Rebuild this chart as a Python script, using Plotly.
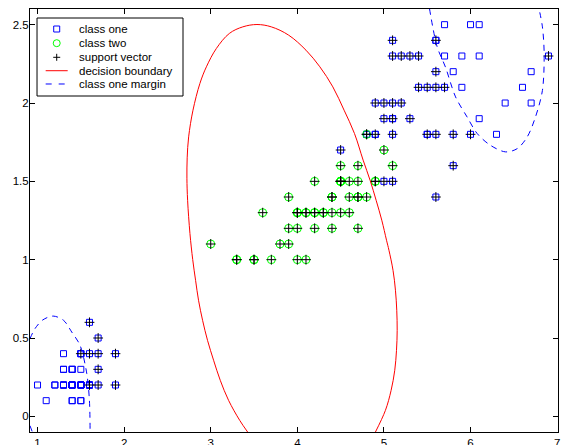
import plotly.graph_objects as go

# ---- data: iris petal length / width ----
setosa_len = [1.4,1.4,1.3,1.5,1.4,1.7,1.4,1.5,1.4,1.5,1.5,1.6,1.4,1.1,1.2,1.5,1.3,1.4,1.7,1.5,
              1.7,1.5,1.0,1.7,1.9,1.6,1.6,1.5,1.4,1.6,1.6,1.5,1.5,1.4,1.5,1.2,1.3,1.4,1.3,1.5,
              1.3,1.3,1.3,1.6,1.9,1.4,1.6,1.4,1.5,1.4]
setosa_wid = [0.2,0.2,0.2,0.2,0.2,0.4,0.3,0.2,0.2,0.1,0.2,0.2,0.1,0.1,0.2,0.4,0.4,0.3,0.3,0.3,
              0.2,0.4,0.2,0.5,0.2,0.2,0.4,0.2,0.2,0.2,0.2,0.4,0.1,0.2,0.2,0.2,0.2,0.1,0.2,0.2,
              0.3,0.3,0.2,0.6,0.4,0.3,0.2,0.2,0.2,0.2]
virginica_len = [6.0,5.1,5.9,5.6,5.8,6.6,4.5,6.3,5.8,6.1,5.1,5.3,5.5,5.0,5.1,5.3,5.5,6.7,6.9,5.0,
                 5.7,4.9,6.7,4.9,5.7,6.0,4.8,4.9,5.6,5.8,6.1,6.4,5.6,5.1,5.6,6.1,5.6,5.5,4.8,5.4,
                 5.6,5.1,5.1,5.9,5.7,5.2,5.0,5.2,5.4,5.1]
virginica_wid = [2.5,1.9,2.1,1.8,2.2,2.1,1.7,1.8,1.8,2.5,2.0,1.9,2.1,2.0,2.4,2.3,1.8,2.2,2.3,1.5,
                 2.3,2.0,2.0,1.8,2.1,1.8,1.8,1.8,2.1,1.6,1.9,2.0,2.2,1.5,1.4,2.3,2.4,1.8,1.8,2.1,
                 2.4,2.3,1.9,2.3,2.5,2.3,1.9,2.0,2.3,1.8]
versicolor_len = [4.7,4.5,4.9,4.0,4.6,4.5,4.7,3.3,4.6,3.9,3.5,4.2,4.0,4.7,3.6,4.4,4.5,4.1,4.5,3.9,
                  4.8,4.0,4.9,4.7,4.3,4.4,4.8,5.0,4.5,3.5,3.8,3.7,3.9,5.1,4.5,4.5,4.7,4.4,4.1,4.0,
                  4.4,4.6,4.0,3.3,4.2,4.2,4.2,4.3,3.0,4.1]
versicolor_wid = [1.4,1.5,1.5,1.3,1.5,1.3,1.6,1.0,1.3,1.4,1.0,1.5,1.0,1.4,1.3,1.4,1.5,1.0,1.5,1.1,
                  1.8,1.3,1.5,1.2,1.3,1.4,1.4,1.7,1.5,1.0,1.1,1.0,1.2,1.6,1.5,1.6,1.5,1.3,1.3,1.3,
                  1.2,1.4,1.2,1.0,1.3,1.2,1.3,1.3,1.1,1.3]

# support vectors of class one (all class two points are support vectors too)
sv_one_len = [1.6,1.7,1.9,1.7,1.5,1.6,1.7,1.9,1.7,1.6,
              5.1,5.6,5.1,5.2,5.3,5.4,6.9,5.6,5.4,5.5,5.6,5.7,4.9,5.0,5.1,5.2,5.0,5.1,5.3,
              4.8,4.9,5.1,5.5,5.6,5.8,6.0,4.5,5.8,5.0,5.1,5.6]
sv_one_wid = [0.2,0.2,0.2,0.3,0.4,0.4,0.4,0.4,0.5,0.6,
              2.4,2.4,2.3,2.3,2.3,2.3,2.3,2.2,2.1,2.1,2.1,2.1,2.0,2.0,2.0,2.0,1.9,1.9,1.9,
              1.8,1.8,1.8,1.8,1.8,1.8,1.8,1.7,1.6,1.5,1.5,1.4]

# decision boundary
boundary_x = [3.426,3.335,3.206,3.110,3.033,2.963,2.906,2.859,2.825,2.792,2.760,2.733,2.725,
              2.728,2.745,2.795,2.875,2.950,3.065,3.215,3.370,3.534,3.700,3.900,4.100,4.260,
              4.410,4.540,4.660,4.760,4.840,4.910,4.975,5.030,5.058,5.105,5.133,5.148,5.153,
              5.145,5.125,5.083,5.017,4.902]
boundary_y = [-0.1,-0.026,0.102,0.230,0.358,0.485,0.613,0.741,0.868,1.0,1.167,1.379,1.52,
              1.65,1.784,1.954,2.125,2.231,2.348,2.444,2.486,2.501,2.486,2.433,2.337,2.231,
              2.103,1.954,1.805,1.635,1.507,1.379,1.252,1.124,1.060,0.932,0.805,0.677,0.549,
              0.421,0.294,0.166,0.038,-0.1]

# class one margin pieces
margin_left_x = [0.913,0.971,1.06,1.18,1.30,1.395,1.491,1.569,1.599,1.607]
margin_left_y = [0.496,0.56,0.615,0.64,0.613,0.538,0.453,0.272,0.102,-0.1]
margin_corner_x = [0.913,0.94]
margin_corner_y = [-0.06,-0.1]
margin_right_x = [5.526,5.615,5.71,5.827,5.96,6.077,6.23,6.405,6.54,6.655,6.75,6.83,6.85,6.83,6.79]
margin_right_y = [2.603,2.358,2.23,2.039,1.911,1.805,1.73,1.688,1.709,1.784,1.911,2.08,2.316,2.486,2.603]

x_ticks = [1, 2, 3, 4, 5, 6, 7]
y_ticks = [0, 0.5, 1, 1.5, 2, 2.5]
y_tick_text = ["0", "0.5", "1", "1.5", "2", "2.5"]

legend_labels = ["class one", "class two", "support vector", "decision boundary", "class one margin"]

font = "Liberation Sans, Arial, Helvetica, sans-serif"
BLUE, GREEN, RED = "#0000ff", "#00ff00", "#ff0000"

fig = go.Figure()
fig.add_trace(go.Scatter(
    x=setosa_len + virginica_len, y=setosa_wid + virginica_wid, mode="markers",
    name=legend_labels[0], showlegend=False,
    marker=dict(symbol="square-open", size=6, color=BLUE, line=dict(width=1, color=BLUE))))
fig.add_trace(go.Scatter(
    x=versicolor_len, y=versicolor_wid, mode="markers", name=legend_labels[1], showlegend=False,
    marker=dict(symbol="circle-open", size=8, color=GREEN, line=dict(width=1, color=GREEN))))
fig.add_trace(go.Scatter(
    x=sv_one_len + versicolor_len, y=sv_one_wid + versicolor_wid, mode="markers",
    name=legend_labels[2], showlegend=False,
    marker=dict(symbol="cross-thin-open", size=7, color="black", line=dict(width=1, color="black"))))
fig.add_trace(go.Scatter(
    x=boundary_x, y=boundary_y, mode="lines", name=legend_labels[3], showlegend=False,
    line=dict(color=RED, width=1, shape="spline", smoothing=1.0)))
fig.add_trace(go.Scatter(
    x=margin_left_x + [None] + margin_corner_x + [None] + margin_right_x,
    y=margin_left_y + [None] + margin_corner_y + [None] + margin_right_y,
    mode="lines", name=legend_labels[4], showlegend=False, connectgaps=False,
    line=dict(color=BLUE, width=1, dash="6px,5px", shape="spline", smoothing=0.9)))

# ---- compact MATLAB-style legend box (paper coordinates) ----
leg_x0, leg_x1, leg_y0, leg_y1 = 0.0133, 0.2898, 0.7943, 0.9787
row_y = [0.9527, 0.9192, 0.8858, 0.8541, 0.8227]
glyph_x, glyph_line_x0, glyph_line_x1, text_x = 0.0506, 0.0297, 0.0714, 0.0885

shapes = [dict(type="rect", xref="paper", yref="paper", x0=leg_x0, x1=leg_x1, y0=leg_y0, y1=leg_y1,
               line=dict(color="black", width=1), fillcolor="white", layer="above")]

def px_shape(kind, yc, dx0, dx1, dy0, dy1, color, dash=None):
    return dict(type=kind, xref="paper", yref="paper", xsizemode="pixel", ysizemode="pixel",
                xanchor=glyph_x, yanchor=yc, x0=dx0, x1=dx1, y0=dy0, y1=dy1,
                line=dict(color=color, width=1, dash=dash), layer="above")

shapes.append(px_shape("rect", row_y[0], -3, 3, -3, 3, BLUE))
shapes.append(px_shape("circle", row_y[1], -3.5, 3.5, -3.5, 3.5, GREEN))
shapes.append(px_shape("line", row_y[2], -3.5, 3.5, 0, 0, "black"))
shapes.append(px_shape("line", row_y[2], 0, 0, -3.5, 3.5, "black"))
shapes.append(dict(type="line", xref="paper", yref="paper", x0=glyph_line_x0, x1=glyph_line_x1,
                   y0=row_y[3], y1=row_y[3], line=dict(color=RED, width=1), layer="above"))
shapes.append(dict(type="line", xref="paper", yref="paper", x0=glyph_line_x0, x1=glyph_line_x1,
                   y0=row_y[4], y1=row_y[4], line=dict(color=BLUE, width=1, dash="6px,7px"),
                   layer="above"))

annotations = [dict(xref="paper", yref="paper", x=text_x, y=yy, text=t, showarrow=False,
                    xanchor="left", yanchor="middle",
                    font=dict(family=font, size=11.5, color="black"))
               for t, yy in zip(legend_labels, row_y)]

axis_common = dict(
    showgrid=False, zeroline=False, showline=True, linecolor="black", linewidth=1,
    mirror="allticks", ticks="inside", ticklen=5, tickwidth=1, tickcolor="black",
    ticklabeloverflow="allow", automargin=False,
    tickfont=dict(family=font, size=11.5, color="black"))

fig.update_layout(
    template="none",
    width=562, height=445,
    margin=dict(l=30, r=4, t=9, b=13, autoexpand=False),
    paper_bgcolor="white", plot_bgcolor="white",
    font=dict(family=font, size=11.5, color="black"),
    showlegend=False,
    shapes=shapes, annotations=annotations,
)
fig.update_xaxes(range=[0.913, 7.01], tickvals=x_ticks, ticktext=[str(v) for v in x_ticks], **axis_common)
fig.update_yaxes(range=[-0.1, 2.6], tickvals=y_ticks, ticktext=y_tick_text,
                 ticklabelstandoff=-2, **axis_common)

# remove the default page margin so the figure fills the window exactly
fig.write_html("out.html", config={"displayModeBar": False},
               post_script="document.body.style.margin='0';document.body.style.overflow='hidden';")
